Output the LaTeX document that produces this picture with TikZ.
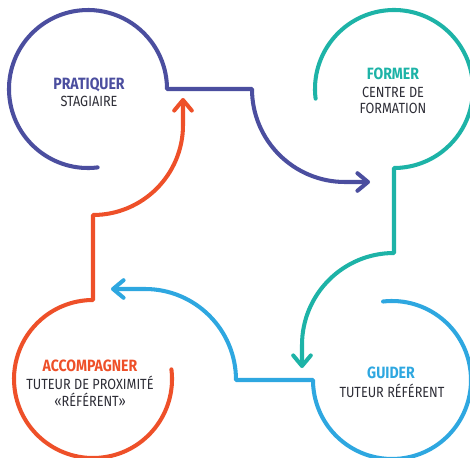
\documentclass[tikz,border=0pt]{standalone}
\usepackage{fontspec}
\setmainfont{Fira Sans}[FakeStretch=0.86]
\usepackage{xcolor}
\usetikzlibrary{arrows.meta}
\definecolor{violetP}{HTML}{4B4E9F}
\definecolor{vertF}{HTML}{1DB3A7}
\definecolor{bleuG}{HTML}{2EA7E0}
\definecolor{orangeA}{HTML}{EE5029}
\definecolor{texte}{HTML}{2D2D36}
\tikzset{
  boucle/.style={line width=2.3pt},
  titre/.style={anchor=base,font=\bfseries\fontsize{9.3}{10}\selectfont},
  legende/.style={anchor=base,text=texte,font=\fontsize{8.4}{9}\selectfont},
}

\begin{document}
\begin{tikzpicture}[line cap=round,line join=round,>={Straight Barb[length=6pt,width=10pt,round]},x=0.02cm,y=0.02cm]
		\clip (0,0) rectangle (470,457);
		\coordinate (pratiquer) at (88,368);
		\coordinate (former) at (394,368);
		\coordinate (guider) at (392,77);
		\coordinate (accompagner) at (93,78);
		\coordinate (p coin) at (252,368);
		\coordinate (f entree) at (370,275);
		\coordinate (f coin) at (394,204);
		\coordinate (g entree) at (302,89);
		\coordinate (g coin) at (236,77);
		\coordinate (a entree) at (111,168);
		\coordinate (a coin) at (93,242);
		\coordinate (p entree) at (183,359);
		\draw [boucle,color=violetP,->] ([shift={(277:79)}]pratiquer) arc[start angle=277,end angle=0,radius=79] -- (p coin) arc[start angle=180,end angle=270,radius=93] -- (f entree);
		\draw [boucle,color=vertF,->] ([shift={(187:79)}]former) arc[start angle=187,end angle=-90,radius=79] -- (f coin) arc[start angle=90,end angle=180,radius=92] -- (g entree);
		\draw [boucle,color=bleuG,->] ([shift={(96.5:79)}]guider) arc[start angle=96.5,end angle=-180,radius=79] -- (g coin) arc[start angle=0,end angle=90,radius=91] -- (a entree);
		\draw [boucle,color=orangeA,->] ([shift={(7:79)}]accompagner) arc[start angle=7,end angle=-270,radius=79] -- (a coin) arc[start angle=-90,end angle=0,radius=90] -- (p entree);
		\node[titre,text=violetP] (t pratiquer) at (89,367.7) {PRATIQUER};
		\node[legende] (l stagiaire) at (89,350.3) {STAGIAIRE};
		\node[titre,text=vertF] (t former) at (393,377) {FORMER};
		\node[legende] (l centre) at (393,359.7) {CENTRE DE};
		\node[legende] (l formation) at (393,343) {FORMATION};
		\node[titre,text=orangeA] (t accompagner) at (90,85.3) {ACCOMPAGNER};
		\node[legende] (l tuteur prox) at (90,67.7) {TUTEUR DE PROXIMITÉ};
		\node[legende] (l referent) at (90,50.3) {«RÉFÉRENT»};
		\node[titre,text=bleuG] (t guider) at (391,78.7) {GUIDER};
		\node[legende] (l tuteur ref) at (392,59.7) {TUTEUR RÉFÉRENT};
	\end{tikzpicture}
\end{document}
